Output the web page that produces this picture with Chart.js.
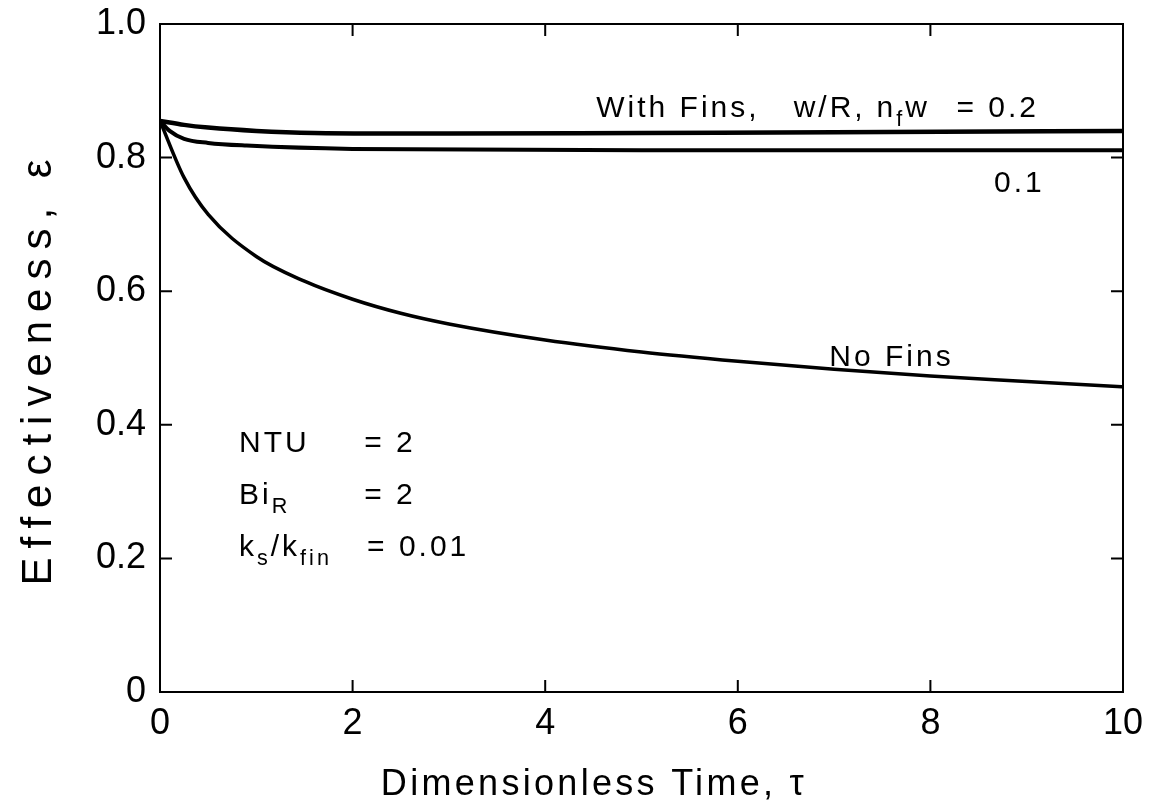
<!DOCTYPE html>
<html>
<head>
<meta charset="utf-8">
<script src="https://cdn.jsdelivr.net/npm/chart.js@4.4.1/dist/chart.umd.min.js"></script>
<style>
  html, body { margin: 0; padding: 0; background: #fff; }
</style>
</head>
<body>
<canvas id="effChart" width="1162" height="812"></canvas>
<script>
// values
const tauFin02 = [0, 0.25, 0.5, 1, 1.6, 3, 5, 7, 10];
const effFin02 = [0.855, 0.849, 0.845, 0.840, 0.837, 0.836, 0.837, 0.838, 0.840];

const tauFin01 = [0, 0.1, 0.25, 0.5, 0.9, 2, 5, 10];
const effFin01 = [0.855, 0.840, 0.828, 0.822, 0.818, 0.813, 0.811, 0.811];

const tauNoFin = [0, 0.25, 0.5, 1, 1.5, 2, 2.5, 3, 4, 5, 6, 7, 8, 9, 10];
const effNoFin = [0.855, 0.770, 0.715, 0.652, 0.615, 0.588, 0.567, 0.551, 0.527, 0.509, 0.495, 0.483, 0.473, 0.465, 0.457];

const xTicks = [0, 2, 4, 6, 8, 10];
const yTicks = [0, 0.2, 0.4, 0.6, 0.8, 1.0];

const FONT = "'Liberation Sans', Arial, Helvetica, sans-serif";
Chart.defaults.font.family = FONT;
Chart.defaults.color = '#000';

const toPoints = (xs, ys) => xs.map((x, i) => ({ x: x, y: ys[i] }));

// draws text pieces one after another, subscripts smaller and lower
const drawRich = (ctx, x, y, parts, size) => {
    let cx = x;
    parts.forEach(p => {
        const s = p.sub ? size * 0.72 : size;
        ctx.font = s + 'px ' + FONT;
        ctx.fillText(p.t, cx, p.sub ? y + size * 0.3 : y);
        cx += ctx.measureText(p.t).width;
    });
};

const notes = [
    { x: 4.53, y: 0.861, parts: [{ t: 'With Fins,' }] },
    { x: 6.58, y: 0.861, parts: [{ t: 'w/R,' }] },
    { x: 7.44, y: 0.861, parts: [{ t: 'n' }, { t: 'f', sub: true }, { t: 'w' }] },
    { x: 8.27, y: 0.861, parts: [{ t: '= 0.2' }] },
    { x: 8.66, y: 0.749, parts: [{ t: '0.1' }] },
    { x: 6.95, y: 0.488, parts: [{ t: 'No Fins' }] },
    { x: 0.82, y: 0.360, parts: [{ t: 'NTU' }] },
    { x: 2.12, y: 0.360, parts: [{ t: '= 2' }] },
    { x: 0.82, y: 0.282, parts: [{ t: 'Bi' }, { t: 'R', sub: true }] },
    { x: 2.12, y: 0.282, parts: [{ t: '= 2' }] },
    { x: 0.82, y: 0.204, parts: [{ t: 'k' }, { t: 's', sub: true }, { t: '/k' }, { t: 'fin', sub: true }] },
    { x: 2.15, y: 0.204, parts: [{ t: '= 0.01' }] },
];

const framePlugin = {
    id: 'frame',
    afterDatasetsDraw(chart) {
        const { ctx, chartArea: a, scales: { x, y } } = chart;
        const len = 12;
        ctx.save();
        ctx.strokeStyle = '#000';
        ctx.lineWidth = 2;
        ctx.beginPath();
        ctx.moveTo(a.left, a.top);
        ctx.lineTo(a.right, a.top);
        ctx.lineTo(a.right, a.bottom);
        xTicks.forEach(v => {
            const px = x.getPixelForValue(v);
            ctx.moveTo(px, a.bottom); ctx.lineTo(px, a.bottom - len);
            ctx.moveTo(px, a.top); ctx.lineTo(px, a.top + len);
        });
        yTicks.forEach(v => {
            const py = y.getPixelForValue(v);
            ctx.moveTo(a.left, py); ctx.lineTo(a.left + len, py);
            ctx.moveTo(a.right, py); ctx.lineTo(a.right - len, py);
        });
        ctx.stroke();

        ctx.fillStyle = '#000';
        ctx.textBaseline = 'alphabetic';
        ctx.textAlign = 'left';
        ctx.letterSpacing = '3px';
        notes.forEach(n => {
            drawRich(ctx, x.getPixelForValue(n.x), y.getPixelForValue(n.y), n.parts, 30);
        });

        // axis titles, set wide like the original
        ctx.textAlign = 'center';
        ctx.font = '36px ' + FONT;
        ctx.letterSpacing = '3.3px';
        ctx.fillText('Dimensionless Time, τ', 594, 795);

        ctx.translate(51, 372);
        ctx.rotate(-Math.PI / 2);
        ctx.font = '42px ' + FONT;
        ctx.letterSpacing = '9px';
        ctx.fillText('Effectiveness, ε', 4, 0);
        ctx.restore();
    }
};

const ctx = document.getElementById('effChart').getContext('2d');
new Chart(ctx, {
    type: 'line',
    data: {
        datasets: [
            { label: 'w/R, nfw = 0.2', data: toPoints(tauFin02, effFin02), borderWidth: 4.5 },
            { label: 'w/R, nfw = 0.1', data: toPoints(tauFin01, effFin01), borderWidth: 4 },
            { label: 'No Fins', data: toPoints(tauNoFin, effNoFin), borderWidth: 3.5 },
        ].map(d => Object.assign(d, {
            borderColor: '#000',
            pointRadius: 0,
            cubicInterpolationMode: 'monotone',
            fill: false,
        })),
    },
    options: {
        responsive: false,
        animation: false,
        layout: { padding: { left: 0, top: 24, right: 39, bottom: 0 } },
        plugins: {
            legend: { display: false },
            tooltip: { enabled: false },
        },
        scales: {
            x: {
                type: 'linear',
                min: 0,
                max: 10,
                afterBuildTicks: s => { s.ticks = xTicks.map(v => ({ value: v })); },
                ticks: { font: { size: 36 }, color: '#000', padding: 10, maxRotation: 0 },
                grid: { display: false, drawTicks: false },
                border: { display: true, color: '#000', width: 2 },
                afterFit: s => { s.height = 120; s.paddingLeft = 0; s.paddingRight = 0; },
            },
            y: {
                min: 0,
                max: 1,
                afterBuildTicks: s => { s.ticks = yTicks.map(v => ({ value: v })); },
                ticks: {
                    font: { size: 36 },
                    color: '#000',
                    padding: 14,
                    callback: v => (v === 0 ? '0' : v.toFixed(1)),
                },
                grid: { display: false, drawTicks: false },
                border: { display: true, color: '#000', width: 2 },
                afterFit: s => { s.width = 160; s.paddingTop = 0; s.paddingBottom = 0; },
            },
        },
    },
    plugins: [framePlugin],
});
</script>
</body>
</html>
